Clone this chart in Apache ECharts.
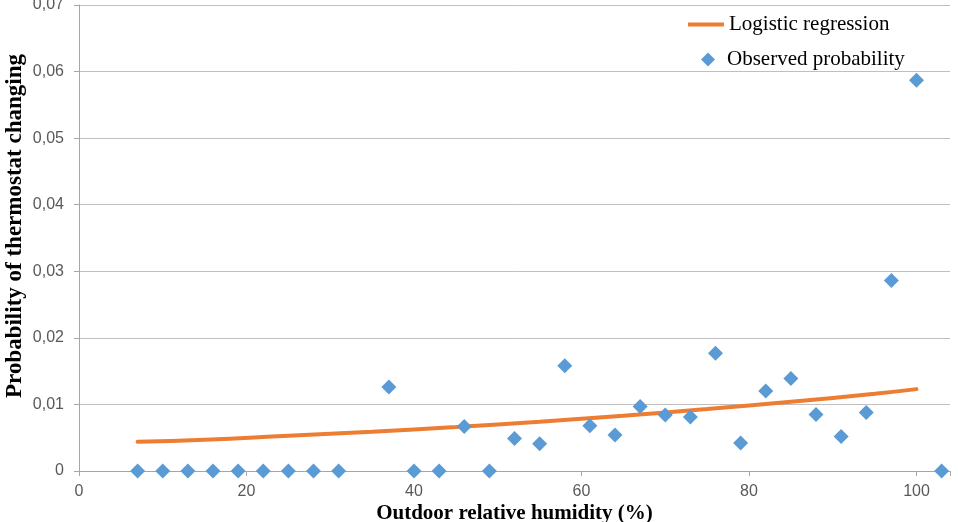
<!DOCTYPE html>
<html>
<head>
<meta charset="utf-8">
<script src="https://cdn.jsdelivr.net/npm/echarts@6/dist/echarts.min.js"></script>
<style>html,body{margin:0;padding:0;background:#fff}#c{width:958px;height:522px}</style>
</head>
<body>
<div id="c"></div>
<script>
const obsX = [7,10,13,16,19,22,25,28,31,37,40,43,46,49,52,55,58,61,64,67,70,73,76,79,82,85,88,91,94,97,100,103];
const obsY = [0,0,0,0,0,0,0,0,0,0.0126,0,0,0.0067,0,0.0049,0.0041,0.0158,0.0068,0.0054,0.0097,0.0084,0.0081,0.0177,0.0042,0.0120,0.0139,0.0085,0.0052,0.0088,0.0286,0.0587,0];
const fitX = [7,15,25,35,45,55,65,75,85,95,100];
const fitY = [0.0044,0.0047,0.0053,0.0059,0.0066,0.0074,0.0083,0.0093,0.0104,0.0116,0.0123];
const xTicks = [0,20,40,60,80,100];
const yTickStep = 0.01;

const chart = echarts.init(document.getElementById('c'));
const serif = '"Liberation Serif","Times New Roman",serif';
const sans = '"Liberation Sans",Arial,sans-serif';
const legText = {fontFamily: serif, fontSize: 21, color: '#000'};
chart.setOption({
  animation: false,
  grid: {left: 79, right: 8, top: 5, bottom: 51, containLabel: false, outerBoundsMode: 'none'},
  legend: [
    {orient: 'vertical', left: 683, top: 9, itemWidth: 36, itemHeight: 4,
     textStyle: legText, data: [{name: 'Logistic regression', icon: 'rect'}]},
    {orient: 'vertical', left: 696, top: 44, itemWidth: 14, itemHeight: 14,
     textStyle: Object.assign({padding: [0,0,0,7]}, legText), data: [{name: 'Observed probability', icon: 'diamond'}]}
  ],
  xAxis: {
    type: 'value', min: 0, max: 104, interval: 20,
    name: 'Outdoor relative humidity (%)', nameLocation: 'middle', nameGap: 32, nameMoveOverlap: false,
    nameTextStyle: {fontFamily: serif, fontSize: 21, fontWeight: 'bold', color: '#000'},
    axisLine: {show: true, onZero: false, lineStyle: {color: '#a6a6a6', width: 1}},
    axisTick: {show: true, length: 5, lineStyle: {color: '#a6a6a6'}},
    splitLine: {show: false},
    axisLabel: {fontFamily: sans, fontSize: 16, color: '#595959', margin: 13,
      formatter: v => xTicks.indexOf(v) >= 0 ? String(v) : ''}
  },
  yAxis: {
    type: 'value', min: 0, max: 0.07, interval: yTickStep,
    name: 'Probability of thermostat changing', nameLocation: 'middle', nameGap: 52, nameRotate: 90, nameMoveOverlap: false,
    nameTextStyle: {fontFamily: serif, fontSize: 23, fontWeight: 'bold', color: '#000', padding: [0, 0, 0, 24]},
    axisLine: {show: true, lineStyle: {color: '#a6a6a6', width: 1}},
    axisTick: {show: true, length: 5, lineStyle: {color: '#a6a6a6'}},
    splitLine: {show: true, lineStyle: {color: '#bfbfbf', width: 1}},
    axisLabel: {fontFamily: sans, fontSize: 16, color: '#595959', margin: 15,
      formatter: v => v === 0 ? '0' : v.toFixed(2).replace('.', ',')}
  },
  series: [
    {
      name: 'Logistic regression', type: 'line', smooth: true, showSymbol: false, symbol: 'none',
      data: fitX.map((x, i) => [x, fitY[i]]),
      lineStyle: {color: '#ED7D31', width: 4, cap: 'round'}, itemStyle: {color: '#ED7D31'}, z: 3
    },
    {
      name: 'Observed probability', type: 'scatter', symbol: 'diamond', symbolSize: 15,
      data: obsX.map((x, i) => [x, obsY[i]]),
      itemStyle: {color: '#5B9BD5', opacity: 1}, z: 4
    }
  ]
});
</script>
</body>
</html>
